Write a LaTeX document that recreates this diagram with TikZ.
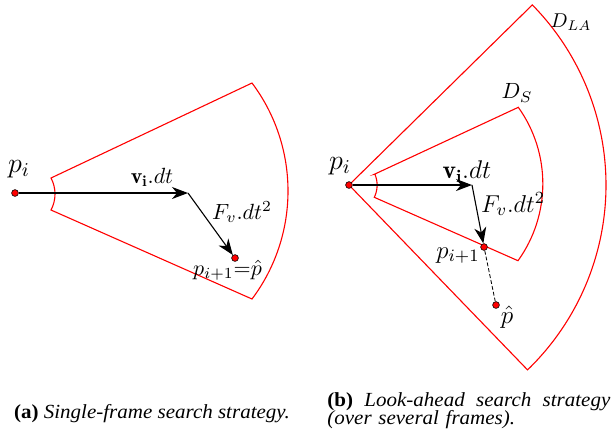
\RequirePackage{fix-cm}
\documentclass[tikz,border=0pt]{standalone}
\usepackage{fontspec}
\usetikzlibrary{arrows.meta,positioning}
\newfontfamily\capfont[FakeStretch=1.05]{Liberation Serif}
\definecolor{sectred}{RGB}{255,0,0}

\begin{document}
\begin{tikzpicture}[x=0.5pt, y=-0.5pt,
      lbl/.style={font=\fontsize{#1}{14}\selectfont, inner sep=0pt},
      lbl/.default=11,
      sector/.style={draw=sectred, line width=0.55pt},
      vec/.style={-{Stealth[length=8pt,width=6pt,inset=2.5pt]}, line width=0.55pt},
      dot/.style={circle, fill=sectred, draw=black, line width=0.3pt, inner sep=0pt, minimum size=3.4pt},
      captext/.style={font=\capfont\fontsize{10}{9.2}\selectfont, inner sep=0pt}]
    \useasboundingbox (0,0) rectangle (613,441);

    % (a) single frame
    \draw[sector] (51,178) -- (252,83) arc[start angle=-36.87, end angle=36.87, radius=180]
      -- (51,210) arc[start angle=28.07, end angle=-28.07, radius=34] -- cycle;
    \node[dot] (pa) at (15,193) {};
    \node[dot] (qa) at (235,258) {};
    \coordinate (ka) at (188,193);
    \draw[vec] (pa) -- (ka);
    \draw[vec] (ka) -- (qa);
    \node[lbl=14] (pal) at (19,169) {$p_i$};
    \node[lbl] (va) at (152,177) {$\mathbf{v_i}.dt$};
    \node[lbl] (fa) at (242,212) {$F_v.dt^2$};
    \node[lbl] (qal) at (227.5,270) {$p_{i+1}{=}\hat{p}$};

    % (b) look-ahead
    \draw[sector] (349,185) -- ++(-44.5:257) arc[start angle=-44.5, end angle=46, radius=257] -- cycle;
    \draw[sector] (374.3,174.3) -- (518.3,107.3) arc[start angle=-35.56, end angle=35.8, radius=131.5]
      -- (374.3,197.3) arc[start angle=25.9, end angle=-22.9, radius=28] -- cycle;
    \node[dot] (pb) at (349,185) {};
    \coordinate (kb) at (472,185);
    \node[dot] (qb) at (484,247) {};
    \node[dot] (hb) at (496,305) {};
    \draw[vec] (pb) -- (kb);
    \draw[vec] (kb) -- (qb);
    \draw[dash pattern=on 2pt off 1pt, line width=0.4pt] (qb) -- (hb);
    \node[lbl=14] (pbl) at (340,166) {$p_i$};
    \node[lbl=12.8] (vb) at (467,172) {$\mathbf{v_i}.dt$};
    \node[lbl=12.2] (fb) at (513,204) {$F_v.dt^2$};
    \node[lbl=12.4] (qbl) at (458,255.5) {$p_{i+1}$};
    \node[lbl=12.6] (hbl) at (507,317) {$\hat{p}$};
    \node[lbl] (ds) at (517,93) {$D_S$};
    \node[lbl=10] (dla) at (571,22) {$D_{LA}$};

    % captions
    \node[captext, anchor=base] (capa) at (152,418) {\textbf{(a)} \textit{Single-frame search strategy.}};
    \node[captext, anchor=base west, text width=141.5pt, align=left] (capb) at (327,406)
      {\hbox to 141.5pt{\textbf{(b)} \hfill\textit{Look-ahead} \hfill\textit{search} \hfill\textit{strategy}}\\
       \textit{(over several frames).}};
  \end{tikzpicture}
\end{document}
